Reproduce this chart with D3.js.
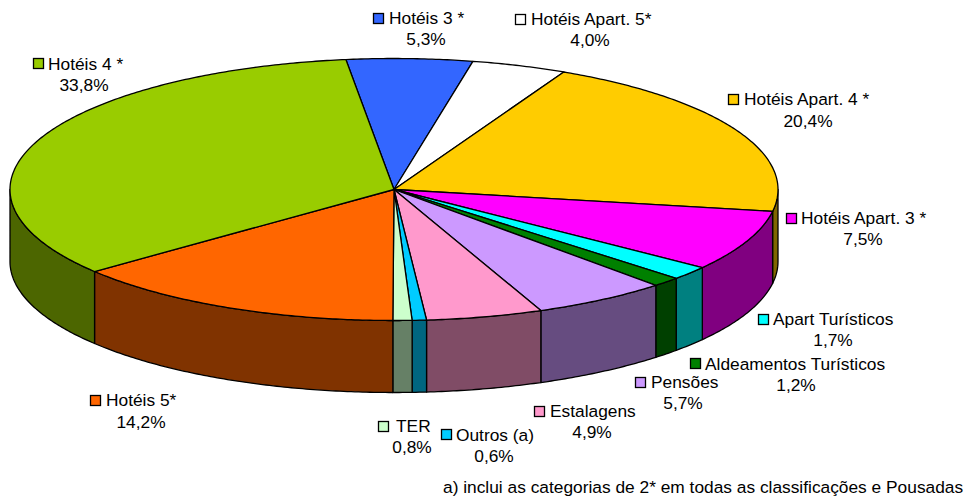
<!DOCTYPE html>
<html><head><meta charset="utf-8">
<script src="https://cdn.jsdelivr.net/npm/d3@7"></script>
<style>html,body{margin:0;background:#fff}svg{display:block}text{font-family:"Liberation Sans",Arial,sans-serif;font-size:17.33px;fill:#000}</style>
</head><body><svg id="c" width="969" height="499"></svg>
<script>
const categories=["Hotéis 3 *","Hotéis Apart. 5*","Hotéis Apart. 4 *","Hotéis Apart. 3 *","Apart Turísticos","Aldeamentos Turísticos","Pensões","Estalagens","Outros (a)","TER","Hotéis 5*","Hotéis 4 *"];
const values=[5.3,4.0,20.4,7.5,1.7,1.2,5.7,4.9,0.6,0.8,14.2,33.8];
const topColors=["#3366FF","#FFFFFF","#FFCC00","#FF00FF","#00FFFF","#008000","#CC99FF","#FF99CC","#00CCFF","#CCFFCC","#FF6600","#99CC00"];
const sideColors=["#1A3380","#808080","#806600","#800080","#008080","#004000","#664C80","#804C66","#006680","#668066","#803300","#4C6600"];
const footnote="a) inclui as categorias de 2* em todas as classificações e Pousadas";
// legend layout: key left, key top, name x, name baseline, percent centre, percent baseline
const labelLayout=[[373,13,389,24,426,45],[515,14,531,25,590,46],[728,94,744,105,808,127],[786,213,801,224,863,245],[758,314,773,325,833,346],[690,358,705,370,796,391],[635,377,651,388,683,409],[534,406,550,417,592,438],[441,429,456,441,494,462],[378,421,396,432,412,453],[90,395,106,406,141,428],[33,58,48,70,84,91]];

const cx=394,cy=189.5,rx=384,ry=131,depth=72;
const svg=d3.select("#c");
const start=-7.2*Math.PI/180;
const arcs=d3.pie().sort(null).value(d=>d).startAngle(start).endAngle(start+2*Math.PI)(values);
const px=a=>cx+rx*Math.sin(a), py=a=>cy-ry*Math.cos(a);
const line=d3.line().x(d=>d[0]).y(d=>d[1]);
const rim=(a0,a1,dy=0)=>{const n=Math.max(2,Math.ceil(Math.abs(a1-a0)/0.01));
  return d3.range(n+1).map(i=>{const a=a0+(a1-a0)*i/n;return [px(a),py(a)+dy];});};

// side walls: only the front half of the rim is visible
const wallLayer=svg.append("g");
arcs.forEach((d,i)=>{
  const a0=Math.max(d.startAngle,Math.PI/2),a1=Math.min(d.endAngle,3*Math.PI/2);
  if(a1<=a0)return;
  const pts=rim(a0,a1).concat(rim(a1,a0,depth));
  wallLayer.append("path").attr("d",line(pts)+"Z").attr("fill",sideColors[i]).attr("stroke","#000").attr("stroke-width",1.3).attr("stroke-linejoin","round");
});
// top face
const faceLayer=svg.append("g");
arcs.forEach((d,i)=>{
  const pts=[[cx,cy]].concat(rim(d.startAngle,d.endAngle));
  faceLayer.append("path").attr("d",line(pts)+"Z").attr("fill",topColors[i]).attr("stroke","#000").attr("stroke-width",1.3).attr("stroke-linejoin","round");
});
// labels
const fmt=v=>v.toFixed(1).replace(".",",")+"%";
const lab=svg.append("g");
categories.forEach((c,i)=>{
  const l=labelLayout[i];
  lab.append("rect").attr("x",l[0]+.5).attr("y",l[1]+.5).attr("width",10).attr("height",10).attr("fill",topColors[i]).attr("stroke","#000").attr("stroke-width",1.3);
  lab.append("text").attr("x",l[2]).attr("y",l[3]).text(c);
  lab.append("text").attr("x",l[4]).attr("y",l[5]).attr("text-anchor","middle").text(fmt(values[i]));
});
svg.append("text").attr("x",443).attr("y",493).text(footnote);
</script></body></html>
